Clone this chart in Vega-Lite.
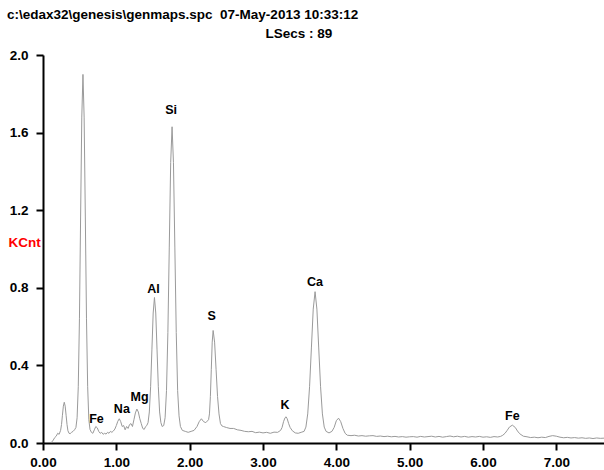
{
  "$schema": "https://vega.github.io/schema/vega-lite/v6.json",
  "width": 561,
  "height": 388,
  "autosize": {"type": "none"},
  "padding": {"left": 43, "top": 55, "right": 0, "bottom": 27},
  "background": "white",
  "config": {"view": {"stroke": null}, "font": "Liberation Sans"},
  "title": {
    "text": "c:\\edax32\\genesis\\genmaps.spc\u00a0 07-May-2013 10:33:12",
    "anchor": "start", "frame": "group", "dx": -36, "offset": 5,
    "fontSize": 13.5, "fontWeight": "bold", "color": "black", "font": "Liberation Sans"
  },
  "datasets": {
    "spec": [
      {"e":0.115,"c":0.003},{"e":0.14,"c":0.015},{"e":0.16,"c":0.028},{"e":0.18,"c":0.035},{"e":0.20,"c":0.05},{"e":0.22,"c":0.045},{"e":0.24,"c":0.065},{"e":0.2525,"c":0.095},{"e":0.265,"c":0.143},{"e":0.2775,"c":0.19},{"e":0.29,"c":0.21},{"e":0.3025,"c":0.19},{"e":0.315,"c":0.143},{"e":0.3275,"c":0.095},{"e":0.34,"c":0.063},{"e":0.355,"c":0.05},{"e":0.37,"c":0.048},{"e":0.39,"c":0.055},{"e":0.41,"c":0.06},{"e":0.43,"c":0.068},
      {"e":0.449,"c":0.08},{"e":0.465,"c":0.13},{"e":0.481,"c":0.29},{"e":0.497,"c":0.64},{"e":0.513,"c":1.17},{"e":0.529,"c":1.68},{"e":0.545,"c":1.9},{"e":0.561,"c":1.68},{"e":0.577,"c":1.17},{"e":0.593,"c":0.64},{"e":0.609,"c":0.29},{"e":0.625,"c":0.12},{"e":0.641,"c":0.07},
      {"e":0.66,"c":0.055},{"e":0.68,"c":0.05},{"e":0.70,"c":0.068},{"e":0.72,"c":0.085},{"e":0.74,"c":0.078},{"e":0.76,"c":0.06},{"e":0.78,"c":0.05},{"e":0.80,"c":0.055},{"e":0.82,"c":0.045},{"e":0.84,"c":0.05},{"e":0.86,"c":0.046},{"e":0.88,"c":0.055},{"e":0.90,"c":0.05},{"e":0.92,"c":0.06},{"e":0.94,"c":0.055},{"e":0.96,"c":0.062},{"e":0.98,"c":0.072},
      {"e":1.00,"c":0.09},{"e":1.02,"c":0.112},{"e":1.04,"c":0.125},{"e":1.06,"c":0.11},{"e":1.08,"c":0.085},{"e":1.10,"c":0.09},{"e":1.12,"c":0.068},{"e":1.14,"c":0.085},{"e":1.16,"c":0.075},{"e":1.18,"c":0.095},{"e":1.20,"c":0.1},{"e":1.22,"c":0.085},{"e":1.24,"c":0.12},{"e":1.26,"c":0.155},{"e":1.28,"c":0.175},{"e":1.30,"c":0.16},{"e":1.32,"c":0.125},{"e":1.34,"c":0.1},{"e":1.36,"c":0.075},{"e":1.38,"c":0.07},{"e":1.40,"c":0.085},
      {"e":1.415,"c":0.09},{"e":1.4325,"c":0.105},{"e":1.45,"c":0.16},{"e":1.4675,"c":0.29},{"e":1.485,"c":0.48},{"e":1.5025,"c":0.67},{"e":1.52,"c":0.75},{"e":1.5375,"c":0.67},{"e":1.555,"c":0.48},{"e":1.5725,"c":0.29},{"e":1.59,"c":0.16},{"e":1.6075,"c":0.105},{"e":1.625,"c":0.085},
      {"e":1.646,"c":0.09},{"e":1.665,"c":0.13},{"e":1.684,"c":0.27},{"e":1.703,"c":0.57},{"e":1.722,"c":1.01},{"e":1.741,"c":1.445},{"e":1.76,"c":1.63},{"e":1.779,"c":1.445},{"e":1.798,"c":1.01},{"e":1.817,"c":0.57},{"e":1.836,"c":0.27},{"e":1.855,"c":0.14},{"e":1.874,"c":0.085},
      {"e":1.90,"c":0.065},{"e":1.94,"c":0.06},{"e":1.98,"c":0.055},{"e":2.02,"c":0.06},{"e":2.06,"c":0.065},{"e":2.10,"c":0.085},{"e":2.13,"c":0.11},{"e":2.16,"c":0.125},{"e":2.19,"c":0.11},{"e":2.22,"c":0.105},
      {"e":2.2575,"c":0.12},{"e":2.27,"c":0.15},{"e":2.2825,"c":0.24},{"e":2.295,"c":0.38},{"e":2.3075,"c":0.52},{"e":2.32,"c":0.58},{"e":2.34,"c":0.52},{"e":2.36,"c":0.38},{"e":2.38,"c":0.24},{"e":2.40,"c":0.15},{"e":2.42,"c":0.1},{"e":2.44,"c":0.088},
      {"e":2.46,"c":0.085},{"e":2.50,"c":0.08},{"e":2.55,"c":0.075},{"e":2.60,"c":0.075},{"e":2.65,"c":0.068},{"e":2.70,"c":0.065},{"e":2.75,"c":0.06},{"e":2.80,"c":0.058},{"e":2.85,"c":0.06},{"e":2.90,"c":0.053},{"e":2.95,"c":0.056},{"e":3.00,"c":0.052},{"e":3.05,"c":0.055},{"e":3.10,"c":0.05},{"e":3.15,"c":0.056},{"e":3.20,"c":0.055},
      {"e":3.24,"c":0.065},{"e":3.26,"c":0.08},{"e":3.28,"c":0.11},{"e":3.30,"c":0.13},{"e":3.315,"c":0.135},{"e":3.33,"c":0.125},{"e":3.35,"c":0.1},{"e":3.37,"c":0.08},{"e":3.40,"c":0.063},{"e":3.44,"c":0.052},{"e":3.48,"c":0.05},{"e":3.52,"c":0.055},
      {"e":3.56,"c":0.06},{"e":3.585,"c":0.082},{"e":3.61,"c":0.15},{"e":3.635,"c":0.29},{"e":3.66,"c":0.49},{"e":3.685,"c":0.69},{"e":3.71,"c":0.78},{"e":3.735,"c":0.69},{"e":3.76,"c":0.49},{"e":3.785,"c":0.29},{"e":3.81,"c":0.15},{"e":3.835,"c":0.082},{"e":3.86,"c":0.06},
      {"e":3.90,"c":0.052},{"e":3.94,"c":0.06},{"e":3.97,"c":0.08},{"e":4.00,"c":0.115},{"e":4.03,"c":0.128},{"e":4.06,"c":0.11},{"e":4.09,"c":0.075},{"e":4.12,"c":0.05},{"e":4.15,"c":0.04},
      {"e":4.20,"c":0.038},{"e":4.25,"c":0.04},{"e":4.30,"c":0.036},{"e":4.35,"c":0.038},{"e":4.40,"c":0.035},{"e":4.45,"c":0.037},{"e":4.50,"c":0.038},{"e":4.55,"c":0.034},{"e":4.60,"c":0.036},{"e":4.65,"c":0.033},{"e":4.70,"c":0.035},{"e":4.75,"c":0.032},{"e":4.80,"c":0.034},{"e":4.85,"c":0.031},{"e":4.90,"c":0.033},{"e":4.95,"c":0.03},
      {"e":5.00,"c":0.032},{"e":5.05,"c":0.033},{"e":5.10,"c":0.03},{"e":5.15,"c":0.034},{"e":5.20,"c":0.031},{"e":5.25,"c":0.033},{"e":5.30,"c":0.035},{"e":5.35,"c":0.031},{"e":5.40,"c":0.034},{"e":5.45,"c":0.03},{"e":5.50,"c":0.033},{"e":5.55,"c":0.036},{"e":5.60,"c":0.032},{"e":5.65,"c":0.035},{"e":5.70,"c":0.031},{"e":5.75,"c":0.034},{"e":5.80,"c":0.03},{"e":5.85,"c":0.033},{"e":5.90,"c":0.031},{"e":5.95,"c":0.034},{"e":6.00,"c":0.03},{"e":6.05,"c":0.032},{"e":6.10,"c":0.029},{"e":6.15,"c":0.033},{"e":6.20,"c":0.031},
      {"e":6.24,"c":0.034},{"e":6.27,"c":0.04},{"e":6.30,"c":0.05},{"e":6.33,"c":0.065},{"e":6.36,"c":0.082},{"e":6.40,"c":0.092},{"e":6.44,"c":0.08},{"e":6.47,"c":0.062},{"e":6.50,"c":0.048},{"e":6.55,"c":0.035},{"e":6.60,"c":0.032},
      {"e":6.65,"c":0.028},{"e":6.70,"c":0.03},{"e":6.75,"c":0.027},{"e":6.80,"c":0.03},{"e":6.85,"c":0.028},{"e":6.90,"c":0.034},{"e":6.95,"c":0.038},{"e":7.00,"c":0.035},{"e":7.05,"c":0.03},{"e":7.10,"c":0.027},{"e":7.15,"c":0.029},{"e":7.20,"c":0.026},{"e":7.25,"c":0.028},{"e":7.30,"c":0.025},{"e":7.35,"c":0.027},{"e":7.40,"c":0.024},{"e":7.45,"c":0.026},{"e":7.50,"c":0.023},{"e":7.55,"c":0.026},{"e":7.60,"c":0.024},{"e":7.65,"c":0.025}
    ],
    "labels": [
      {"e":0.73,"c":0.122,"t":"Fe"},
      {"e":1.075,"c":0.174,"t":"Na"},
      {"e":1.316,"c":0.236,"t":"Mg"},
      {"e":1.507,"c":0.792,"t":"Al"},
      {"e":1.748,"c":1.716,"t":"Si"},
      {"e":2.30,"c":0.655,"t":"S"},
      {"e":3.30,"c":0.196,"t":"K"},
      {"e":3.71,"c":0.831,"t":"Ca"},
      {"e":6.40,"c":0.139,"t":"Fe"}
    ]
  },
  "encoding": {
    "x": {
      "field": "e", "type": "quantitative",
      "scale": {"domain": [0, 7.65], "nice": false, "zero": false},
      "axis": {
        "values": [0,1,2,3,4,5,6,7], "format": ".2f", "grid": false,
        "tickSize": 7, "tickWidth": 2, "tickColor": "black",
        "domainColor": "black", "domainWidth": 2,
        "labelFontSize": 13.5, "labelFontWeight": "bold", "labelColor": "black", "labelPadding": 5,
        "labelFlush": false, "labelOverlap": false,
        "title": "LSecs : 89", "titleX": 222, "titleY": -406, "titleAlign": "left", "titleBaseline": "alphabetic",
        "titleFontSize": 13.5, "titleFontWeight": "bold", "titleColor": "black"
      }
    },
    "y": {
      "field": "c", "type": "quantitative",
      "scale": {"domain": [0, 2], "nice": false},
      "axis": {
        "values": [0,0.4,0.8,1.2,1.6,2.0], "format": ".1f", "grid": false,
        "tickSize": 7, "tickWidth": 2, "tickColor": "black",
        "domainColor": "black", "domainWidth": 2,
        "labelFontSize": 13.5, "labelFontWeight": "bold", "labelColor": "black", "labelPadding": 8,
        "labelFlush": false, "labelOverlap": false,
        "title": "KCnt", "titleColor": "#ff0000", "titleAngle": 0, "titleAlign": "left", "titleBaseline": "middle",
        "titleX": -35, "titleY": 187, "titleFontSize": 13.5, "titleFontWeight": "bold"
      }
    }
  },
  "layer": [
    {"data": {"name": "spec"}, "mark": {"type": "line", "color": "#9a9a9a", "strokeWidth": 1}},
    {"data": {"name": "labels"}, "mark": {"type": "text", "fontSize": 12.5, "fontWeight": "bold", "color": "black", "align": "center", "baseline": "middle"}, "encoding": {"text": {"field": "t"}}}
  ]
}
